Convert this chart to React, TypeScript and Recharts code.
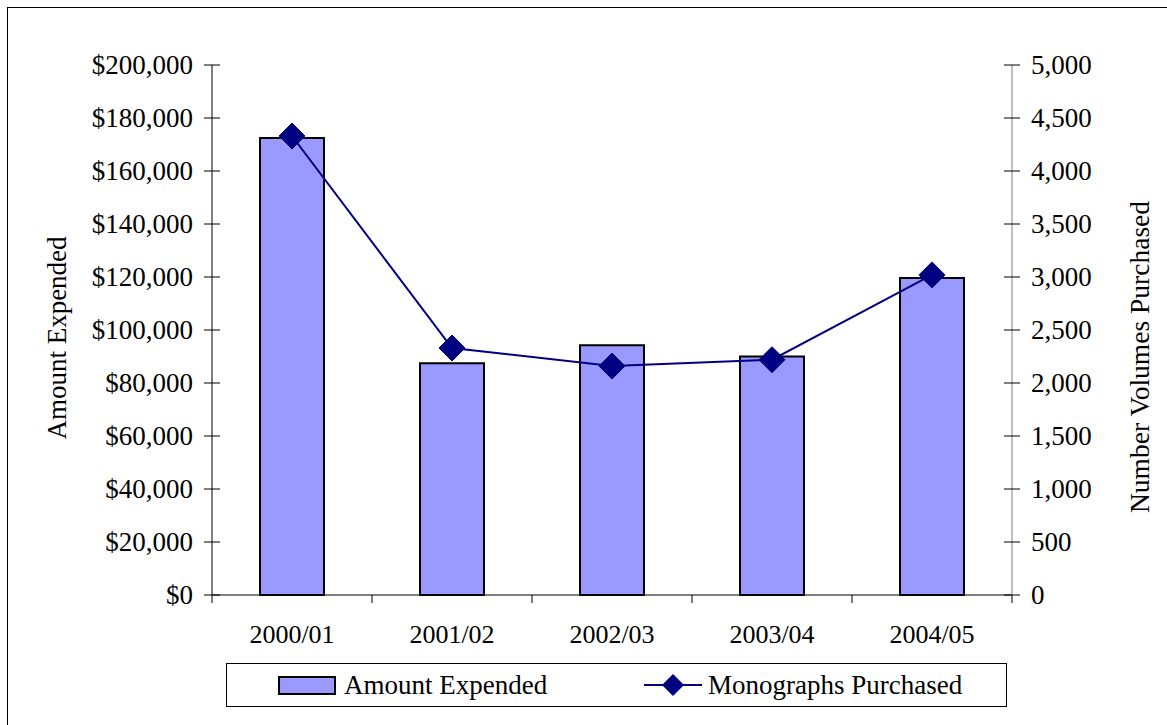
import React from 'react';
import { ComposedChart, Bar, Line, XAxis, YAxis, Legend } from 'recharts';

const categories = ['2000/01', '2001/02', '2002/03', '2003/04', '2004/05'];
const amountExpended = [172500, 87500, 94200, 90000, 119600];
const monographsPurchased = [4330, 2330, 2160, 2220, 3020];
const leftTicks = [0, 20000, 40000, 60000, 80000, 100000, 120000, 140000, 160000, 180000, 200000];
const rightTicks = [0, 500, 1000, 1500, 2000, 2500, 3000, 3500, 4000, 4500, 5000];

const data = categories.map((c, i) => ({
  year: c,
  amount: amountExpended[i],
  monographs: monographsPurchased[i],
}));

const FONT = "'Liberation Serif', 'Times New Roman', Times, 'DejaVu Serif', 'Noto Serif', serif";
const BAR_FILL = '#9999FF';
const LINE_COLOR = '#000080';

const fmtMoney = (v: number) => '$' + v.toLocaleString('en-US');
const fmtNum = (v: number) => v.toLocaleString('en-US');

const LeftTick = (props: any) => {
  const { x, y, payload } = props;
  return (
    <g>
      <line x1={x + 11} x2={x + 27} y1={y} y2={y} stroke="#000" strokeWidth={1} />
      <text x={x} y={y} textAnchor="end" dominantBaseline="central" style={{ fontFamily: FONT, fontSize: 27 }} fill="#000">
        {fmtMoney(payload.value)}
      </text>
    </g>
  );
};

const RightTick = (props: any) => {
  const { x, y, payload } = props;
  return (
    <g>
      <line x1={x - 27} x2={x - 11} y1={y} y2={y} stroke="#000" strokeWidth={1} />
      <text x={x} y={y} textAnchor="start" dominantBaseline="central" style={{ fontFamily: FONT, fontSize: 27 }} fill="#000">
        {fmtNum(payload.value)}
      </text>
    </g>
  );
};

const CatTick = (props: any) => {
  const { x, y, payload, index, visibleTicksCount, width } = props;
  const half = payload && typeof payload.offset === 'number' && payload.offset > 0
    ? payload.offset
    : (width || 800) / (visibleTicksCount || 5) / 2;
  const axisY = y - 30;
  return (
    <g>
      <line x1={x - half} x2={x - half} y1={axisY} y2={axisY + 8} stroke="#000" strokeWidth={1} />
      {index === (visibleTicksCount || 5) - 1 ? (
        <line x1={x + half} x2={x + half} y1={axisY} y2={axisY + 8} stroke="#000" strokeWidth={1} />
      ) : null}
      <text x={x} y={y} dy="0.71em" textAnchor="middle" style={{ fontFamily: FONT, fontSize: 26 }} fill="#000">
        {payload.value}
      </text>
    </g>
  );
};

const LeftTitle = (props: any) => {
  const vb = props.viewBox || { x: 0, y: 65, width: 212, height: 530 };
  const cx = vb.x + 57;
  const cy = vb.y + vb.height / 2 + 8;
  return (
    <text x={cx} y={cy} transform={`rotate(-90, ${cx}, ${cy})`} textAnchor="middle" dominantBaseline="central" style={{ fontFamily: FONT, fontSize: 27 }} fill="#000">
      Amount Expended
    </text>
  );
};

const RightTitle = (props: any) => {
  const vb = props.viewBox || { x: 1012, y: 65, width: 155, height: 530 };
  const cx = vb.x + 127;
  const cy = vb.y + vb.height / 2 + 27;
  return (
    <text x={cx} y={cy} transform={`rotate(-90, ${cx}, ${cy})`} textAnchor="middle" dominantBaseline="central" style={{ fontFamily: FONT, fontSize: 27.5 }} fill="#000">
      Number Volumes Purchased
    </text>
  );
};

const Diamond = (props: any) => {
  const { cx, cy } = props;
  if (cx == null || cy == null) return null;
  const r = 13;
  return (
    <polygon points={`${cx},${cy - r} ${cx + r},${cy} ${cx},${cy + r} ${cx - r},${cy}`} fill={LINE_COLOR} stroke={LINE_COLOR} strokeWidth={1} />
  );
};

const LegendContent = () => (
  <div
    style={{
      position: 'relative',
      width: 781,
      height: 44,
      boxSizing: 'border-box',
      border: '1px solid #000',
      background: '#fff',
      fontFamily: FONT,
      fontSize: 27,
      color: '#000',
    }}
  >
    <div style={{ position: 'absolute', left: 51, top: 0, height: 42, display: 'flex', alignItems: 'center' }}>
      <div style={{ width: 54, height: 15, background: BAR_FILL, border: '2px solid #000' }} />
      <span style={{ marginLeft: 8, lineHeight: '42px' }}>Amount Expended</span>
    </div>
    <div style={{ position: 'absolute', left: 417, top: 0, height: 42, display: 'flex', alignItems: 'center' }}>
      <svg width={58} height={24}>
        <line x1={0} x2={58} y1={12} y2={12} stroke={LINE_COLOR} strokeWidth={2} />
        <polygon points="29,1 40,12 29,23 18,12" fill={LINE_COLOR} />
      </svg>
      <span style={{ marginLeft: 6, lineHeight: '42px' }}>Monographs Purchased</span>
    </div>
  </div>
);

export default function App() {
  return (
    <div style={{ position: 'absolute', left: 0, top: 0, width: 1167, height: 725, background: '#fff', overflow: 'hidden', fontFamily: FONT }}>
      <div style={{ position: 'absolute', left: 7, top: 7, width: 1300, height: 900, border: '1px solid #000', boxSizing: 'border-box' }} />
      <div style={{ position: 'absolute', left: 0, top: 0 }}>
        <ComposedChart
          width={1167}
          height={725}
          data={data}
          margin={{ top: 65, right: 0, bottom: 26, left: 0 }}
          barCategoryGap="30%"
          style={{ fontFamily: FONT }}
        >
          <XAxis
            dataKey="year"
            xAxisId={0}
            height={60}
            interval={0}
            tickLine={false}
            tickSize={0}
            tickMargin={30}
            axisLine={{ stroke: '#000', strokeWidth: 1 }}
            tick={<CatTick />}
          />
          <YAxis
            yAxisId="left"
            orientation="left"
            width={212}
            domain={[0, 200000]}
            ticks={leftTicks}
            interval={0}
            tickLine={false}
            tickSize={8}
            tickMargin={11}
            axisLine={{ stroke: '#000', strokeWidth: 1 }}
            tick={<LeftTick />}
            label={<LeftTitle />}
          />
          <YAxis
            yAxisId="right"
            orientation="right"
            width={155}
            domain={[0, 5000]}
            ticks={rightTicks}
            interval={0}
            tickLine={false}
            tickSize={8}
            tickMargin={11}
            axisLine={{ stroke: '#808080', strokeWidth: 1 }}
            tick={<RightTick />}
            label={<RightTitle />}
          />
          <Legend
            verticalAlign="bottom"
            layout="horizontal"
            content={<LegendContent />}
            wrapperStyle={{ left: 226, top: 663, bottom: 'auto', width: 781, height: 44 }}
          />
          <Bar
            yAxisId="left"
            dataKey="amount"
            name="Amount Expended"
            fill={BAR_FILL}
            stroke="#000"
            strokeWidth={2}
            isAnimationActive={false}
          />
          <Line
            yAxisId="right"
            dataKey="monographs"
            name="Monographs Purchased"
            stroke={LINE_COLOR}
            strokeWidth={2}
            dot={<Diamond />}
            activeDot={false}
            isAnimationActive={false}
          />
        </ComposedChart>
      </div>
    </div>
  );
}
